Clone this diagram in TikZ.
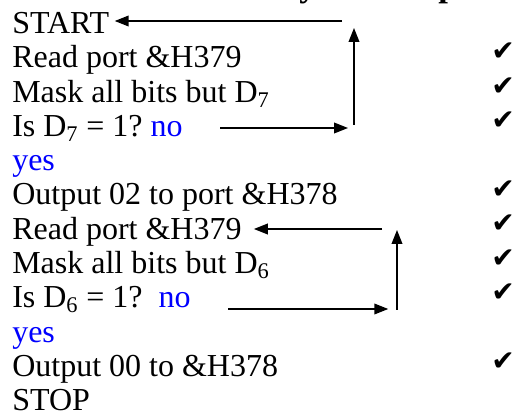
\documentclass[tikz,border=0pt]{standalone}
\usepackage{fontspec}
\setmainfont{Liberation Serif}
\newfontfamily\checkfont{DejaVu Sans}
\usepackage{tikz}
\usetikzlibrary{arrows.meta}
\frenchspacing

\begin{document}
\begin{tikzpicture}[x=0.75pt, y=-0.75pt,
	txt/.style = {anchor=base west, inner sep=0pt, font=\fontsize{24}{28}\selectfont},
	ttl/.style = {anchor=base west, inner sep=0pt, font=\fontsize{26}{30}\selectfont\bfseries},
	tick/.style = {inner sep=0pt, font=\checkfont\fontsize{21}{25}\selectfont},
	arr/.style = {line width=1.2pt, -{Triangle[length=10.5pt, width=8pt]}}]
	\useasboundingbox (0,0) rectangle (517,416);
	% cut-off title
	\node[ttl] (t1) at (299,-3) {y};
	\node[ttl] (t2) at (438,-3) {p};
	% program lines
	\node[txt] (start) at (12,33.5) {START};
	\node[txt] (read1) at (12,67.8) {Read port \&H379};
	\node[txt] (mask1) at (12,102.1) {Mask all bits but D\textsubscript{7}};
	\node[txt] (test1) at (12,136.4) {Is D\textsubscript{7} = 1? \textcolor{blue}{no}};
	\node[txt] (yes1) at (12,170.7) {\textcolor{blue}{yes}};
	\node[txt] (out1) at (12,205) {Output 02 to port \&H378};
	\node[txt] (read2) at (12,239.3) {Read port \&H379};
	\node[txt] (mask2) at (12,273.6) {Mask all bits but D\textsubscript{6}};
	\node[txt] (test2) at (12,307.9) {Is D\textsubscript{6} = 1?~ \textcolor{blue}{no}};
	\node[txt] (yes2) at (12,342.2) {\textcolor{blue}{yes}};
	\node[txt] (out2) at (12,376.5) {Output 00 to \&H378};
	\node[txt] (stop) at (12,410.8) {STOP};
	% ticks
	\foreach \y [count=\i] in {52,87,121,190,224,259,293,362}
		\node[tick] (tick\i) at (503,\y) {✔};
	% first loop
	\coordinate (lo1) at (220,128);
	\coordinate (up1) at (354,125);
	\coordinate (hi1) at (354,28);
	\coordinate (bk1) at (342,21);
	\draw[arr, shorten >=4.5pt] (lo1) -- (lo1 -| up1);
	\draw[arr] (up1) -- (hi1);
	\draw[arr] (bk1) -- ([xshift=4pt]bk1 -| start.east);
	% second loop
	\coordinate (lo2) at (228,309);
	\coordinate (up2) at (397,310);
	\coordinate (hi2) at (397,230);
	\coordinate (bk2) at (382,229);
	\draw[arr, shorten >=6.5pt] (lo2) -- (lo2 -| up2);
	\draw[arr] (up2) -- (hi2);
	\draw[arr] (bk2) -- ([xshift=9pt]bk2 -| read2.east);
\end{tikzpicture}
\end{document}
